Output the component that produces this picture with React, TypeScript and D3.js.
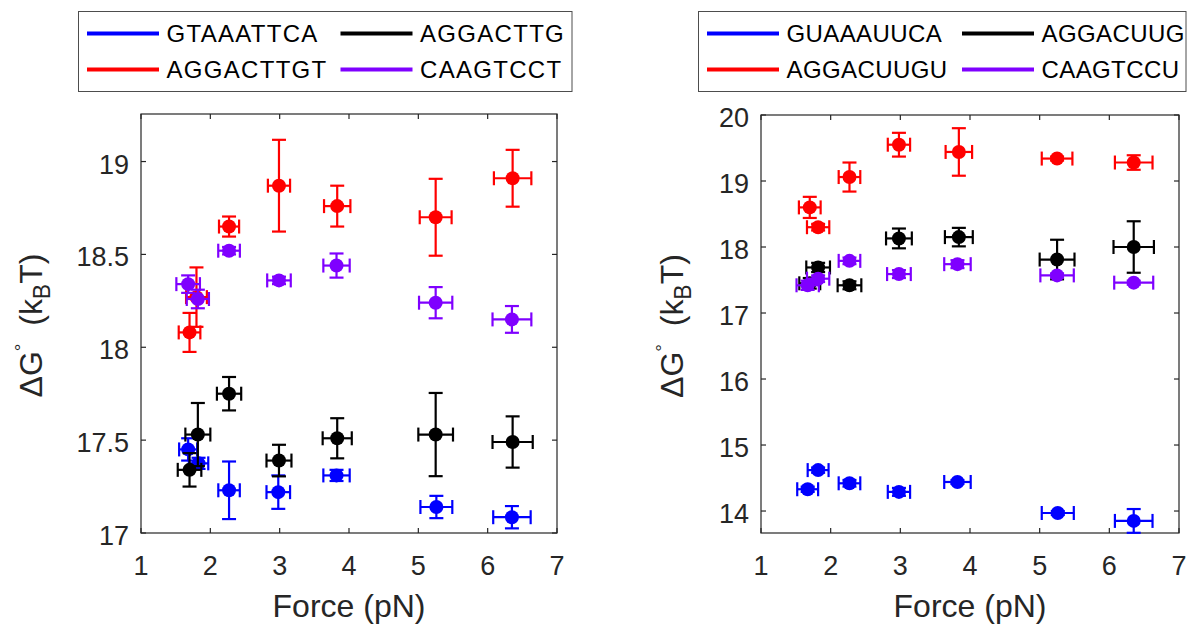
import React from "react";
import * as d3 from "d3";

// ---------- data ----------
const xTicks = [1, 2, 3, 4, 5, 6, 7];
const leftYTicks = [17, 17.5, 18, 18.5, 19];
const rightYTicks = [14, 15, 16, 17, 18, 19, 20];

const leftLabels = ["GTAAATTCA", "AGGACTTGT", "AGGACTTG", "CAAGTCCT"];
const rightLabels = ["GUAAAUUCA", "AGGACUUGU", "AGGACUUG", "CAAGTCCU"];
const seriesColors = ["#0000ff", "#ff0000", "#000000", "#7f00ff"];

// Left panel (DNA)
const lBlueX = [1.68, 1.83, 2.27, 2.98, 3.82, 5.26, 6.35];
const lBlueY = [17.45, 17.375, 17.23, 17.22, 17.31, 17.14, 17.085];
const lBlueYErr = [0.06, 0.03, 0.155, 0.09, 0.03, 0.06, 0.06];
const lBlueXErr = [0.13, 0.14, 0.155, 0.17, 0.19, 0.23, 0.27];

const lRedX = [1.7, 1.8, 2.27, 2.99, 3.83, 5.25, 6.36];
const lRedY = [18.08, 18.27, 18.65, 18.87, 18.76, 18.7, 18.91];
const lRedYErr = [0.105, 0.16, 0.054, 0.247, 0.11, 0.207, 0.153];
const lRedXErr = [0.156, 0.15, 0.145, 0.16, 0.19, 0.23, 0.27];

const lBlackX = [1.7, 1.82, 2.27, 2.99, 3.83, 5.25, 6.36];
const lBlackY = [17.34, 17.53, 17.75, 17.39, 17.51, 17.53, 17.49];
const lBlackYErr = [0.09, 0.17, 0.09, 0.085, 0.108, 0.224, 0.138];
const lBlackXErr = [0.17, 0.18, 0.175, 0.18, 0.21, 0.25, 0.29];

const lPurpleX = [1.68, 1.82, 2.27, 2.99, 3.82, 5.25, 6.35];
const lPurpleY = [18.34, 18.26, 18.52, 18.36, 18.44, 18.24, 18.15];
const lPurpleYErr = [0.047, 0.05, 0.02, 0.02, 0.065, 0.084, 0.072];
const lPurpleXErr = [0.17, 0.16, 0.156, 0.17, 0.19, 0.24, 0.28];

// Right panel (RNA)
const rBlueX = [1.67, 1.82, 2.27, 2.98, 3.82, 5.26, 6.35];
const rBlueY = [14.33, 14.62, 14.42, 14.29, 14.44, 13.97, 13.85];
const rBlueYErr = [0.04, 0.04, 0.05, 0.06, 0.03, 0.03, 0.18];
const rBlueXErr = [0.15, 0.15, 0.155, 0.16, 0.19, 0.23, 0.27];

const rRedX = [1.7, 1.82, 2.27, 2.98, 3.84, 5.25, 6.35];
const rRedY = [18.6, 18.3, 19.06, 19.55, 19.44, 19.34, 19.28];
const rRedYErr = [0.16, 0.05, 0.22, 0.18, 0.36, 0.03, 0.11];
const rRedXErr = [0.156, 0.16, 0.155, 0.16, 0.19, 0.22, 0.27];

const rBlackX = [1.7, 1.82, 2.27, 2.98, 3.84, 5.25, 6.35];
const rBlackY = [17.45, 17.69, 17.42, 18.13, 18.15, 17.81, 18.0];
const rBlackYErr = [0.08, 0.07, 0.06, 0.15, 0.14, 0.3, 0.39];
const rBlackXErr = [0.15, 0.17, 0.17, 0.185, 0.2, 0.25, 0.29];

const rPurpleX = [1.67, 1.82, 2.27, 2.98, 3.82, 5.25, 6.35];
const rPurpleY = [17.42, 17.52, 17.79, 17.59, 17.74, 17.57, 17.46];
const rPurpleYErr = [0.07, 0.05, 0.05, 0.06, 0.06, 0.03, 0.03];
const rPurpleXErr = [0.16, 0.16, 0.155, 0.17, 0.19, 0.24, 0.28];

type Series = { x: number[]; y: number[]; xe: number[]; ye: number[] };

const leftSeries: Series[] = [
  { x: lBlueX, y: lBlueY, xe: lBlueXErr, ye: lBlueYErr },
  { x: lRedX, y: lRedY, xe: lRedXErr, ye: lRedYErr },
  { x: lBlackX, y: lBlackY, xe: lBlackXErr, ye: lBlackYErr },
  { x: lPurpleX, y: lPurpleY, xe: lPurpleXErr, ye: lPurpleYErr },
];
const rightSeries: Series[] = [
  { x: rBlueX, y: rBlueY, xe: rBlueXErr, ye: rBlueYErr },
  { x: rRedX, y: rRedY, xe: rRedXErr, ye: rRedYErr },
  { x: rBlackX, y: rBlackY, xe: rBlackXErr, ye: rBlackYErr },
  { x: rPurpleX, y: rPurpleY, xe: rPurpleXErr, ye: rPurpleYErr },
];

const FONT = "'Liberation Sans', Arial, Helvetica, sans-serif";
const AX = "#262626";

type PanelProps = {
  x0: number; x1: number; y0: number; y1: number;
  yDomain: [number, number];
  yTicks: number[];
  series: Series[];
  labels: string[];
  legend: { x: number; y: number; w: number; h: number; col2: number; ls: number };
  yLabelX: number;
};

function Panel(p: PanelProps) {
  const xs = d3.scaleLinear().domain([1, 7]).range([p.x0, p.x1]);
  const ys = d3.scaleLinear().domain(p.yDomain).range([p.y1, p.y0]);
  const tickLen = 5;
  const cap = 7;
  const r = 7;
  const cy = (p.y0 + p.y1) / 2 + 2;
  const cx = (p.x0 + p.x1) / 2;
  const lg = p.legend;
  const rows = [lg.y + 22, lg.y + 58];
  const legendItems = p.labels.map((lab, i) => ({
    lab,
    color: seriesColors[i],
    col: i < 2 ? 0 : 1,
    row: i % 2,
  }));
  return (
    <g>
      {/* axes box */}
      <rect x={p.x0} y={p.y0} width={p.x1 - p.x0} height={p.y1 - p.y0} fill="white" stroke={AX} strokeWidth={1.2} />
      {xTicks.map((t) => (
        <g key={"xt" + t}>
          <line x1={xs(t)} x2={xs(t)} y1={p.y1} y2={p.y1 - tickLen} stroke={AX} strokeWidth={1.2} />
          <line x1={xs(t)} x2={xs(t)} y1={p.y0} y2={p.y0 + tickLen} stroke={AX} strokeWidth={1.2} />
          <text x={xs(t)} y={p.y1 + 42} textAnchor="middle" fontSize={27} fill={AX} fontFamily={FONT}>
            {String(t)}
          </text>
        </g>
      ))}
      {p.yTicks.map((t) => (
        <g key={"yt" + t}>
          <line x1={p.x0} x2={p.x0 + tickLen} y1={ys(t)} y2={ys(t)} stroke={AX} strokeWidth={1.2} />
          <line x1={p.x1} x2={p.x1 - tickLen} y1={ys(t)} y2={ys(t)} stroke={AX} strokeWidth={1.2} />
          <text x={p.x0 - 12} y={ys(t) + 12} textAnchor="end" fontSize={27} fill={AX} fontFamily={FONT}>
            {String(t)}
          </text>
        </g>
      ))}
      {/* data */}
      {p.series.map((s, si) => {
        const c = seriesColors[si];
        return (
          <g key={"s" + si} stroke={c} strokeWidth={2.2} fill="none">
            {s.x.map((xv, i) => {
              const px = xs(xv);
              const py = ys(s.y[i]);
              const yt = ys(s.y[i] + s.ye[i]);
              const yb = ys(s.y[i] - s.ye[i]);
              const xl = xs(xv - s.xe[i]);
              const xr = xs(xv + s.xe[i]);
              return (
                <g key={i}>
                  <line x1={px} x2={px} y1={yt} y2={yb} />
                  <line x1={px - cap} x2={px + cap} y1={yt} y2={yt} />
                  <line x1={px - cap} x2={px + cap} y1={yb} y2={yb} />
                  <line x1={xl} x2={xr} y1={py} y2={py} />
                  <line x1={xl} x2={xl} y1={py - cap} y2={py + cap} />
                  <line x1={xr} x2={xr} y1={py - cap} y2={py + cap} />
                  <circle cx={px} cy={py} r={r} fill={c} stroke="none" />
                </g>
              );
            })}
          </g>
        );
      })}
      {/* labels */}
      <text x={cx} y={617} textAnchor="middle" fontSize={32} fill={AX} fontFamily={FONT}>
        Force (pN)
      </text>
      <text
        transform={`translate(${p.yLabelX},${cy}) rotate(-90)`}
        textAnchor="middle"
        fontSize={32}
        fill={AX}
        fontFamily={FONT}
      >
        ΔG
        <tspan dy={-14} fontSize={19}>°</tspan>
        <tspan dy={14}>{"\u00a0\u00a0(k"}</tspan>
        <tspan dy={8} fontSize={23}>B</tspan>
        <tspan dy={-8}>T)</tspan>
      </text>
      {/* legend */}
      <rect x={lg.x} y={lg.y} width={lg.w} height={lg.h} fill="white" stroke="#4d4d4d" strokeWidth={1} />
      {legendItems.map((it, i) => {
        const lx = lg.x + 8.5 + it.col * lg.col2;
        const ly = rows[it.row];
        return (
          <g key={"lg" + i}>
            <line x1={lx} x2={lx + 72} y1={ly} y2={ly} stroke={it.color} strokeWidth={4} />
            <text x={lx + 79.5} y={ly + 8.5} fontSize={24} letterSpacing={lg.ls} fill="#000" fontFamily={FONT}>
              {it.lab}
            </text>
          </g>
        );
      })}
    </g>
  );
}

export default function App() {
  return (
    <svg
      width={1188}
      height={625}
      style={{ position: "absolute", left: 0, top: 0, background: "white" }}
    >
      <rect x={0} y={0} width={1188} height={625} fill="white" />
      <Panel
        x0={141}
        x1={557}
        y0={114}
        y1={533}
        yDomain={[17, 19.256]}
        yTicks={leftYTicks}
        series={leftSeries}
        labels={leftLabels}
        legend={{ x: 78.5, y: 11.5, w: 493.5, h: 80, col2: 253.5, ls: 1.3 }}
        yLabelX={42}
      />
      <Panel
        x0={761}
        x1={1179}
        y0={115}
        y1={533}
        yDomain={[13.667, 20]}
        yTicks={rightYTicks}
        series={rightSeries}
        labels={rightLabels}
        legend={{ x: 698.5, y: 11.5, w: 487.5, h: 80, col2: 255, ls: 0.4 }}
        yLabelX={683}
      />
    </svg>
  );
}
